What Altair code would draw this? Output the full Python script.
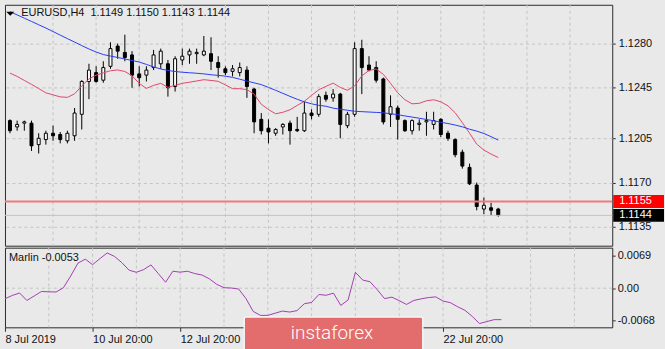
import altair as alt
import pandas as pd

# ---------------- data ----------------
bars = list(range(69))
opens = [1.1219, 1.1214, 1.1217, 1.1217, 1.1200, 1.1204, 1.1209, 1.1208, 1.1203, 1.1207,
         1.1224, 1.1250, 1.1257, 1.1251, 1.1262, 1.1278, 1.1273, 1.1271, 1.1256, 1.1255,
         1.1261, 1.1264, 1.1264, 1.1246, 1.1267, 1.1271, 1.1272, 1.1271, 1.1272, 1.1265,
         1.1260, 1.1258, 1.1257, 1.1259, 1.1244, 1.1220, 1.1213, 1.1209, 1.1214, 1.1217,
         1.1212, 1.1211, 1.1225, 1.1224, 1.1239, 1.1237, 1.1240, 1.1215, 1.1224, 1.1276,
         1.1263, 1.1261, 1.1252, 1.1224, 1.1229, 1.1219, 1.1211, 1.1216, 1.1218, 1.1216,
         1.1220, 1.1209, 1.1204, 1.1194, 1.1182, 1.1168, 1.1149, 1.1150, 1.1149]
highs = [1.1220, 1.1219, 1.1219, 1.1219, 1.1209, 1.1211, 1.1215, 1.1210, 1.1211, 1.1229,
         1.1251, 1.1264, 1.1262, 1.1266, 1.1281, 1.1280, 1.1287, 1.1274, 1.1262, 1.1262,
         1.1275, 1.1276, 1.1267, 1.1270, 1.1276, 1.1276, 1.1276, 1.1286, 1.1285, 1.1270,
         1.1262, 1.1263, 1.1265, 1.1262, 1.1245, 1.1225, 1.1220, 1.1213, 1.1217, 1.1219,
         1.1222, 1.1234, 1.1228, 1.1240, 1.1242, 1.1244, 1.1241, 1.1226, 1.1281, 1.1283,
         1.1270, 1.1266, 1.1253, 1.1239, 1.1231, 1.1220, 1.1220, 1.1220, 1.1226, 1.1226,
         1.1221, 1.1211, 1.1205, 1.1196, 1.1185, 1.1170, 1.1158, 1.1154, 1.1150]
lows = [1.1209, 1.1211, 1.1211, 1.1195, 1.1193, 1.1200, 1.1203, 1.1201, 1.1201, 1.1203,
        1.1212, 1.1236, 1.1249, 1.1249, 1.1260, 1.1268, 1.1266, 1.1245, 1.1246, 1.1250,
        1.1259, 1.1260, 1.1238, 1.1242, 1.1263, 1.1264, 1.1264, 1.1270, 1.1259, 1.1253,
        1.1255, 1.1254, 1.1254, 1.1237, 1.1209, 1.1208, 1.1201, 1.1207, 1.1208, 1.1200,
        1.1210, 1.1210, 1.1220, 1.1222, 1.1234, 1.1234, 1.1205, 1.1213, 1.1222, 1.1240,
        1.1258, 1.1249, 1.1216, 1.1214, 1.1204, 1.1210, 1.1208, 1.1211, 1.1207, 1.1212,
        1.1206, 1.1203, 1.1190, 1.1181, 1.1168, 1.1148, 1.1145, 1.1144, 1.1143]
closes = [1.1211, 1.1216, 1.1218, 1.1199, 1.1205, 1.1209, 1.1207, 1.1204, 1.1209, 1.1225,
          1.1250, 1.1259, 1.1250, 1.1261, 1.1276, 1.1274, 1.1269, 1.1255, 1.1253, 1.1259,
          1.1271, 1.1274, 1.1245, 1.1268, 1.1270, 1.1274, 1.1273, 1.1274, 1.1266, 1.1261,
          1.1257, 1.1260, 1.1261, 1.1246, 1.1218, 1.1211, 1.1210, 1.1212, 1.1216, 1.1211,
          1.1211, 1.1225, 1.1223, 1.1238, 1.1236, 1.1240, 1.1216, 1.1224, 1.1276, 1.1261,
          1.1259, 1.1251, 1.1218, 1.1230, 1.1220, 1.1211, 1.1219, 1.1217, 1.1219, 1.1219,
          1.1208, 1.1205, 1.1192, 1.1183, 1.1169, 1.1151, 1.1152, 1.1148, 1.1144]
blue_ma = [1.13052, 1.13027, 1.13001, 1.12975, 1.12949, 1.12923, 1.12895, 1.12867, 1.12839, 1.12812,
           1.12784, 1.12757, 1.12733, 1.12713, 1.12701, 1.12690, 1.12678, 1.12666, 1.12654, 1.12635,
           1.12615, 1.12599, 1.12587, 1.12579, 1.12573, 1.12569, 1.12565, 1.12560, 1.12553, 1.12548,
           1.12542, 1.12532, 1.12518, 1.12503, 1.12489, 1.12475, 1.12453, 1.12430, 1.12406, 1.12382,
           1.12359, 1.12339, 1.12323, 1.12311, 1.12304, 1.12289, 1.12280, 1.12272, 1.12264, 1.12261,
           1.12258, 1.12255, 1.12252, 1.12244, 1.12237, 1.12227, 1.12218, 1.12209, 1.12199, 1.12189,
           1.12177, 1.12167, 1.12155, 1.12141, 1.12122, 1.12107, 1.12088, 1.12063, 1.12036]
red_ma = [1.12566, 1.12540, 1.12508, 1.12477, 1.12444, 1.12410, 1.12394, 1.12378, 1.12374, 1.12402,
          1.12465, 1.12520, 1.12550, 1.12568, 1.12585, 1.12591, 1.12579, 1.12545, 1.12485, 1.12445,
          1.12469, 1.12485, 1.12453, 1.12469, 1.12485, 1.12494, 1.12504, 1.12514, 1.12508, 1.12501,
          1.12473, 1.12443, 1.12443, 1.12435, 1.12400, 1.12319, 1.12278, 1.12244, 1.12256, 1.12276,
          1.12310, 1.12343, 1.12390, 1.12434, 1.12461, 1.12487, 1.12453, 1.12430, 1.12465, 1.12544,
          1.12587, 1.12599, 1.12556, 1.12485, 1.12410, 1.12355, 1.12323, 1.12327, 1.12347, 1.12355,
          1.12339, 1.12307, 1.12252, 1.12174, 1.12091, 1.12004, 1.11957, 1.11925, 1.11898]
marlin = [-0.00226, -0.00155, -0.00102, -0.00262, -0.00166, -0.00070, -0.00077, -0.00081, 0.00009, 0.00260,
          0.00536, 0.00621, 0.00504, 0.00632, 0.00753, 0.00679, 0.00547, 0.00385, 0.00340, 0.00398,
          0.00498, 0.00313, 0.00128, 0.00362, 0.00343, 0.00362, 0.00313, 0.00281, 0.00200, 0.00083,
          0.00011, 0.00004, -0.00017, -0.00219, -0.00496, -0.00581, -0.00581, -0.00534, -0.00489, -0.00509,
          -0.00479, -0.00332, -0.00304, -0.00134, -0.00151, -0.00106, -0.00368, -0.00251, 0.00340, 0.00174,
          0.00138, -0.00034, -0.00223, -0.00191, -0.00266, -0.00347, -0.00262, -0.00228, -0.00200, -0.00185,
          -0.00274, -0.00309, -0.00396, -0.00472, -0.00602, -0.00755, -0.00713, -0.00672, -0.00672]

price_ticks = [1.1280, 1.1245, 1.1205, 1.1170, 1.1135]
marlin_ticks = [0.0069, 0.0, -0.0068]
marlin_tick_labels = ["0.0069", "0.00", "-0.0068"]
# labels for 16 Jul and 18 Jul sit under the watermark in the reference and are not visible
date_tick_bars = [0, 12, 24, 60]
date_tick_labels = ["8 Jul 2019", "10 Jul 20:00", "12 Jul 20:00", "22 Jul 20:00"]
grid_bars = [6, 12, 18, 24, 30, 36, 42, 48, 54, 60, 66, 72, 78]
level_price = 1.1155
bid_price = 1.1144
title_text = "EURUSD,H4\u00a0\u00a01.1149 1.1150 1.1143 1.1144"
marlin_title = "Marlin -0.0053"

# ---------------- styling ----------------
FONT = "Liberation Sans"
TXT = "#111111"
BG = "#e9e9e9"
GRID = "#c4c4c4"

df = pd.DataFrame({"bar": bars, "open": opens, "high": highs, "low": lows, "close": closes})
df["dir"] = ["up" if c >= o else "down" for o, c in zip(opens, closes)]
blue_df = pd.DataFrame({"bar": bars, "ma": blue_ma})
red_df = pd.DataFrame({"bar": bars, "ma": red_ma})
marlin_df = pd.DataFrame({"bar": bars, "v": marlin})
grid_df = pd.DataFrame({"bar": grid_bars})
labels_df = pd.DataFrame({"price": [level_price, bid_price],
                          "label": ["1.1155", "1.1144"],
                          "bg": ["#ff0000", "#000000"]})

x_scale = alt.Scale(domain=[0, 83.18], nice=False, zero=False)
y_scale = alt.Scale(domain=[1.11200, 1.13107], nice=False, zero=False)
m_scale = alt.Scale(domain=[-0.00836, 0.00866], nice=False, zero=False)

W = 610
H_MAIN = 242
H_IND = 80

label_expr = "''"
for b, s in reversed(list(zip(date_tick_bars, date_tick_labels))):
    label_expr = "(round(datum.value) == %d ? '%s' : %s)" % (b, s, label_expr)
m_label_expr = "datum.value > 0.001 ? '%s' : (datum.value < -0.001 ? '%s' : '%s')" % (
    marlin_tick_labels[0], marlin_tick_labels[2], marlin_tick_labels[1])

price_axis = alt.Axis(orient="right", values=price_ticks, format=".4f", grid=True,
                      gridDash=[3, 3], gridColor=GRID, domain=False, tickSize=3,
                      tickColor="#333333", labelPadding=3, labelFont=FONT, labelFontSize=11,
                      labelColor=TXT, title=None)
date_axis = alt.Axis(values=date_tick_bars, labelExpr=label_expr, labelAlign="left",
                     labelBaseline="top", grid=False, domain=False, tickSize=4,
                     tickColor="#333333", labelPadding=2, labelFont=FONT, labelFontSize=11,
                     labelColor=TXT, labelFlush=False, labelOverlap=False, title=None)
marlin_axis = alt.Axis(orient="right", values=marlin_ticks, labelExpr=m_label_expr, grid=False,
                       domain=False, tickSize=3, tickColor="#333333", labelPadding=2,
                       labelFont=FONT, labelFontSize=11, labelColor=TXT, title=None)

XM = alt.X("bar:Q", scale=x_scale, axis=None)


def YP(field):
    return alt.Y(field, scale=y_scale, axis=price_axis)


# ---------------- main panel ----------------
vgrid = alt.Chart(grid_df).mark_rule(color=GRID, strokeDash=[3, 3], strokeWidth=1).encode(x=XM)

wicks = alt.Chart(df).mark_rule(color="black", strokeWidth=1, clip=True).encode(
    x=XM, y=YP("low:Q"), y2="high:Q",
)

bodies = alt.Chart(df).mark_bar(size=3, stroke="black", strokeWidth=1, clip=True).encode(
    x=XM, y=YP("open:Q"), y2="close:Q",
    fill=alt.Fill("dir:N", scale=alt.Scale(domain=["up", "down"], range=["white", "black"]), legend=None),
)

red_line = alt.Chart(red_df).mark_line(color="#e2476a", strokeWidth=1, clip=True).encode(
    x=XM, y=YP("ma:Q"),
)
blue_line = alt.Chart(blue_df).mark_line(color="#2a3cf0", strokeWidth=1, clip=True).encode(
    x=XM, y=YP("ma:Q"),
)

level = alt.Chart(pd.DataFrame({"p": [level_price]})).mark_rule(color="#f07a7a", strokeWidth=2).encode(
    y=YP("p:Q")
)
bid = alt.Chart(pd.DataFrame({"p": [bid_price]})).mark_rule(color="#c2c2c2", strokeWidth=1).encode(
    y=YP("p:Q")
)

boxes = alt.Chart(labels_df).mark_tick(orient="horizontal", size=51, thickness=13, opacity=1,
                                       clip=False).encode(
    x=alt.value(636.5), y=YP("price:Q"), color=alt.Color("bg:N", scale=None),
)
box_text = alt.Chart(labels_df).mark_text(align="left", baseline="middle", font=FONT, fontSize=11,
                                          color="white", clip=False).encode(
    x=alt.value(617), y=YP("price:Q"), text="label:N",
)

tri = alt.Chart(pd.DataFrame({"t": [1]})).mark_point(
    shape="M-1,-0.5L1,-0.5L0,0.5Z", filled=True, color="black", size=64, opacity=1
).encode(x=alt.value(5.3), y=alt.value(9))

title = alt.Chart(pd.DataFrame({"t": [title_text]})).mark_text(
    align="left", baseline="middle", font=FONT, fontSize=11, color=TXT
).encode(x=alt.value(16.3), y=alt.value(8.7), text="t:N")

main = alt.layer(vgrid, wicks, bodies, red_line, blue_line, level, bid, boxes, box_text, tri, title).properties(
    width=W, height=H_MAIN
)

# ---------------- indicator panel ----------------
XI = alt.X("bar:Q", scale=x_scale, axis=date_axis)


def YI(field):
    return alt.Y(field, scale=m_scale, axis=marlin_axis)


vgrid2 = alt.Chart(grid_df).mark_rule(color=GRID, strokeDash=[3, 3], strokeWidth=1).encode(x=XI)
zero_grid = alt.Chart(pd.DataFrame({"v": [0.0]})).mark_rule(color=GRID, strokeDash=[3, 3], strokeWidth=1).encode(
    y=YI("v:Q")
)
m_line = alt.Chart(marlin_df).mark_line(color="#a43cb2", strokeWidth=1, clip=True).encode(
    x=XI, y=YI("v:Q"),
)
m_title = alt.Chart(pd.DataFrame({"t": [marlin_title]})).mark_text(
    align="left", baseline="middle", font=FONT, fontSize=11, color=TXT
).encode(x=alt.value(4), y=alt.value(10.5), text="t:N")

wm_box = alt.Chart(pd.DataFrame({"t": [1]})).mark_rect(
    color="#e36c6c", stroke="#f6f6f6", strokeWidth=1.5, cornerRadius=2, clip=False
).encode(x=alt.value(240.3), x2=alt.value(419.7), y=alt.value(69.7), y2=alt.value(104))
wm_text = alt.Chart(pd.DataFrame({"t": ["instaforex"]})).mark_text(
    align="center", baseline="middle", font="Roboto", fontSize=19, fontWeight=300, color="white", clip=False
).encode(x=alt.value(328.5), y=alt.value(85.5), text="t:N")

ind = alt.layer(vgrid2, zero_grid, m_line, m_title, wm_box, wm_text).properties(width=W, height=H_IND)

chart = alt.vconcat(main, ind, spacing=2, bounds="flush").properties(
    padding={"left": 3, "top": 3, "right": 0, "bottom": 0},
    background=BG,
).configure_view(stroke="#2a2a2a", strokeWidth=1, fill=BG)

chart.save("out.html", embed_options={"renderer": "svg", "actions": False})
